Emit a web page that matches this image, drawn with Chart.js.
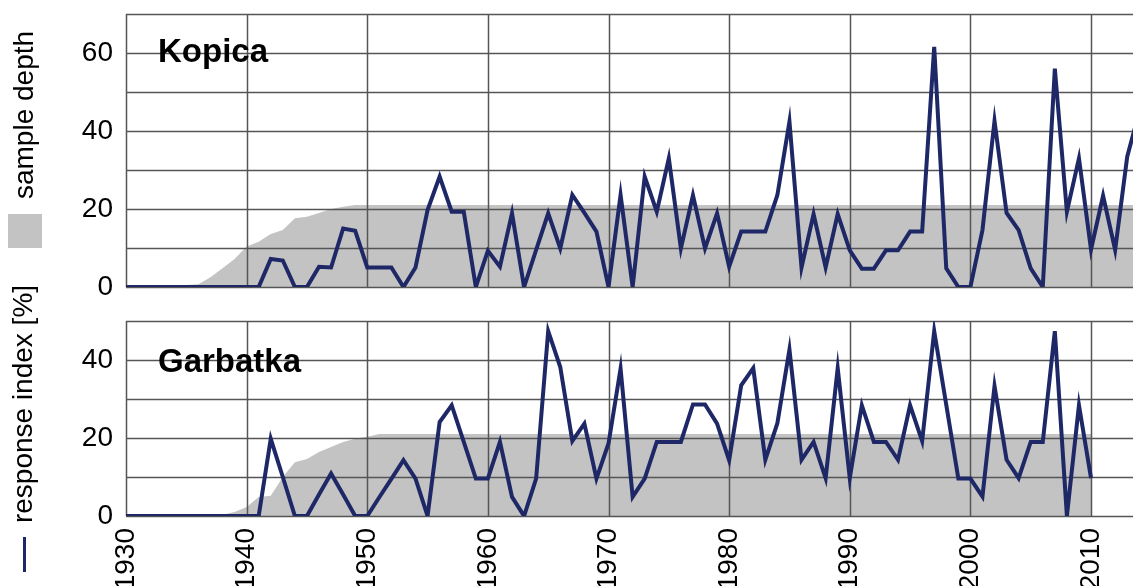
<!DOCTYPE html>
<html>
<head>
<meta charset="utf-8">
<script src="https://cdn.jsdelivr.net/npm/chart.js@4"></script>
<style>
    body { margin: 0; background: #fff; }
    #wrap { position: relative; width: 1133px; height: 586px; overflow: hidden; font-family: "Liberation Sans", Arial, sans-serif; }
    canvas { position: absolute; left: 0; }
    .side { position: absolute; font-size: 28px; line-height: 28px; white-space: nowrap; color: #000;
            transform: translate(-50%, -50%) rotate(-90deg); }
    .site { position: absolute; left: 158px; font-size: 33px; line-height: 33px; font-weight: bold; color: #000; }
</style>
</head>
<body>
<div id="wrap">
    <canvas id="topChart" width="1133" height="300" style="top:0"></canvas>
    <canvas id="bottomChart" width="1133" height="286" style="top:300px"></canvas>
    <div class="site" style="top:34px">Kopica</div>
    <div class="site" style="top:344px">Garbatka</div>
    <div style="position:absolute;left:8px;top:214px;width:34px;height:34px;background:#c3c3c3"></div>
    <div class="side" style="left:24px;top:115px">sample depth</div>
    <div style="position:absolute;left:23px;top:537px;width:3px;height:35px;background:#1f2866"></div>
    <div class="side" style="left:23px;top:404px">response index [%]</div>
</div>

<script>
const years = [1930, 1931, 1932, 1933, 1934, 1935, 1936, 1937, 1938, 1939,
    1940, 1941, 1942, 1943, 1944, 1945, 1946, 1947, 1948, 1949,
    1950, 1951, 1952, 1953, 1954, 1955, 1956, 1957, 1958, 1959,
    1960, 1961, 1962, 1963, 1964, 1965, 1966, 1967, 1968, 1969,
    1970, 1971, 1972, 1973, 1974, 1975, 1976, 1977, 1978, 1979,
    1980, 1981, 1982, 1983, 1984, 1985, 1986, 1987, 1988, 1989,
    1990, 1991, 1992, 1993, 1994, 1995, 1996, 1997, 1998, 1999,
    2000, 2001, 2002, 2003, 2004, 2005, 2006, 2007, 2008, 2009,
    2010, 2011, 2012, 2013, 2014];

// Kopica, 1930-2014
const kopicaIndex = [0, 0, 0, 0, 0, 0, 0, 0, 0, 0,
    0, 0, 7.2, 6.8, 0, 0, 5.2, 5, 15, 14.4,
    5, 5, 5, 0, 5, 19.7, 28.3, 19.3, 19.3, 0,
    9.3, 5.2, 18.9, 0, 9.5, 18.9, 9.9, 23.6, 19, 14.2,
    0, 23.6, 0, 28.3, 19.3, 33, 9.9, 23.5, 9.9, 18.9,
    5.2, 14.2, 14.2, 14.2, 23.6, 42.4, 5, 18.7, 5, 18.7,
    9.4, 4.7, 4.7, 9.4, 9.4, 14.2, 14.2, 61.6, 4.8, 0,
    0, 14.6, 42.6, 19, 14.6, 4.8, 0, 56, 19.3, 33,
    9.6, 23.4, 9.5, 33.4, 45];
const kopicaDepth = [0, 0, 0, 0, 0, 0.5, 0.7, 2.5, 4.8, 7.2,
    10.4, 11.6, 13.6, 14.6, 17.6, 18, 19, 20, 20.6, 21,
    21, 21, 21, 21, 21, 21, 21, 21, 21, 21,
    21, 21, 21, 21, 21, 21, 21, 21, 21, 21,
    21, 21, 21, 21, 21, 21, 21, 21, 21, 21,
    21, 21, 21, 21, 21, 21, 21, 21, 21, 21,
    21, 21, 21, 21, 21, 21, 21, 21, 21, 21,
    21, 21, 21, 21, 21, 21, 21, 21, 21, 21,
    21, 21, 21, 21, 21];

// Garbatka, 1930-2010
const garbatkaIndex = [0, 0, 0, 0, 0, 0, 0, 0, 0, 0,
    0, 0, 19.8, 10, 0, 0, 5.5, 10.9, 5.5, 0,
    0, 4.8, 9.5, 14.3, 9.6, 0, 24.1, 28.4, 19, 9.6,
    9.6, 19, 4.9, 0, 9.6, 47.4, 38.2, 19.2, 23.7, 9.6,
    18.6, 37.8, 4.9, 9.6, 19, 19, 19, 28.6, 28.6, 23.7,
    14.3, 33.5, 37.9, 14.4, 23.8, 42.7, 14.4, 19, 9.7, 37.9,
    9.7, 28.4, 19, 19, 14.4, 28.4, 19.2, 47.4, 28.5, 9.6,
    9.6, 5, 33.3, 14.4, 9.7, 19, 19, 47.4, 0, 28.4,
    9.7];
const garbatkaDepth = [0, 0, 0, 0, 0, 0, 0, 0, 0.3, 1,
    2.3, 4.9, 5.2, 10, 13.8, 14.6, 16.4, 17.7, 19, 19.8,
    20.3, 21, 21, 21, 21, 21, 21, 21, 21, 21,
    21, 21, 21, 21, 21, 21, 21, 21, 21, 21,
    21, 21, 21, 21, 21, 21, 21, 21, 21, 21,
    21, 21, 21, 21, 21, 21, 21, 21, 21, 21,
    21, 21, 21, 21, 21, 21, 21, 21, 21, 21,
    21, 21, 21, 21, 21, 21, 21, 21, 21, 21,
    21];

const decadeTicks = [1930, 1940, 1950, 1960, 1970, 1980, 1990, 2000, 2010];
const topGrid = [0, 10, 20, 30, 40, 50, 60, 70];
const topLabels = [0, 20, 40, 60];
const bottomGrid = [0, 10, 20, 30, 40, 50];
const bottomLabels = [0, 20, 40];

const lineColor = "#1f2866";
const fillColor = "#c3c3c3";
const gridColor = "#555555";
const font = { family: "'Liberation Sans', Arial, sans-serif", size: 28 };

function points(values) {
    return values.map((v, i) => ({ x: years[i], y: v }));
}

// draw the grid after the grey fill, but under the line
const gridOverFill = {
    id: "gridOverFill",
    afterDatasetDraw(chart, args) {
        if (args.index !== 1) return;
        const { ctx, chartArea: a, scales: { x, y } } = chart;
        ctx.save();
        ctx.strokeStyle = gridColor;
        ctx.lineWidth = 1.5;
        ctx.beginPath();
        x.ticks.forEach(t => {
            const px = Math.round(x.getPixelForValue(t.value)) + 0.5;
            ctx.moveTo(px, a.top);
            ctx.lineTo(px, a.bottom);
        });
        y.ticks.forEach(t => {
            const py = Math.round(y.getPixelForValue(t.value)) + 0.5;
            ctx.moveTo(a.left, py);
            ctx.lineTo(a.right, py);
        });
        ctx.stroke();
        ctx.restore();
    }
};

function makeChart(id, index, depth, grid, labels, showYears, padTop, padBottom) {
    const ctx = document.getElementById(id).getContext("2d");
    return new Chart(ctx, {
        type: "line",
        data: {
            datasets: [{
                label: "response index [%]",
                data: points(index),
                borderColor: lineColor,
                borderWidth: 4,
                pointRadius: 0,
                tension: 0,
                fill: false,
                order: 0
            }, {
                label: "sample depth",
                data: points(depth),
                borderWidth: 0,
                backgroundColor: fillColor,
                pointRadius: 0,
                fill: "origin",
                order: 1
            }]
        },
        options: {
            responsive: false,
            animation: false,
            layout: { padding: { top: padTop, bottom: padBottom, left: 0, right: 0 } },
            plugins: { legend: { display: false }, tooltip: { enabled: false } },
            scales: {
                x: {
                    type: "linear",
                    min: 1930,
                    max: 2013.48,
                    grid: { display: false, drawTicks: false },
                    border: { display: false },
                    afterBuildTicks: s => { s.ticks = decadeTicks.map(v => ({ value: v })); },
                    afterFit: s => {
                        s.height = showYears ? 70 : 0;
                        s.paddingLeft = 0;
                        s.paddingRight = 0;
                    },
                    ticks: {
                        display: showYears,
                        minRotation: 90,
                        maxRotation: 90,
                        padding: 12,
                        color: "#000",
                        font: font,
                        callback: v => String(v)
                    }
                },
                y: {
                    min: 0,
                    max: grid[grid.length - 1],
                    grid: { display: false, drawTicks: false },
                    border: { display: false },
                    afterBuildTicks: s => { s.ticks = grid.map(v => ({ value: v })); },
                    afterFit: s => {
                        s.width = 126;
                        s.paddingTop = 0;
                        s.paddingBottom = 0;
                    },
                    ticks: {
                        padding: 13,
                        color: "#000",
                        font: font,
                        callback: v => labels.includes(v) ? String(v) : ""
                    }
                }
            }
        },
        plugins: [gridOverFill]
    });
}

makeChart("topChart", kopicaIndex, kopicaDepth, topGrid, topLabels, false, 14, 13);
makeChart("bottomChart", garbatkaIndex, garbatkaDepth, bottomGrid, bottomLabels, true, 21, 0);
</script>
</body>
</html>
